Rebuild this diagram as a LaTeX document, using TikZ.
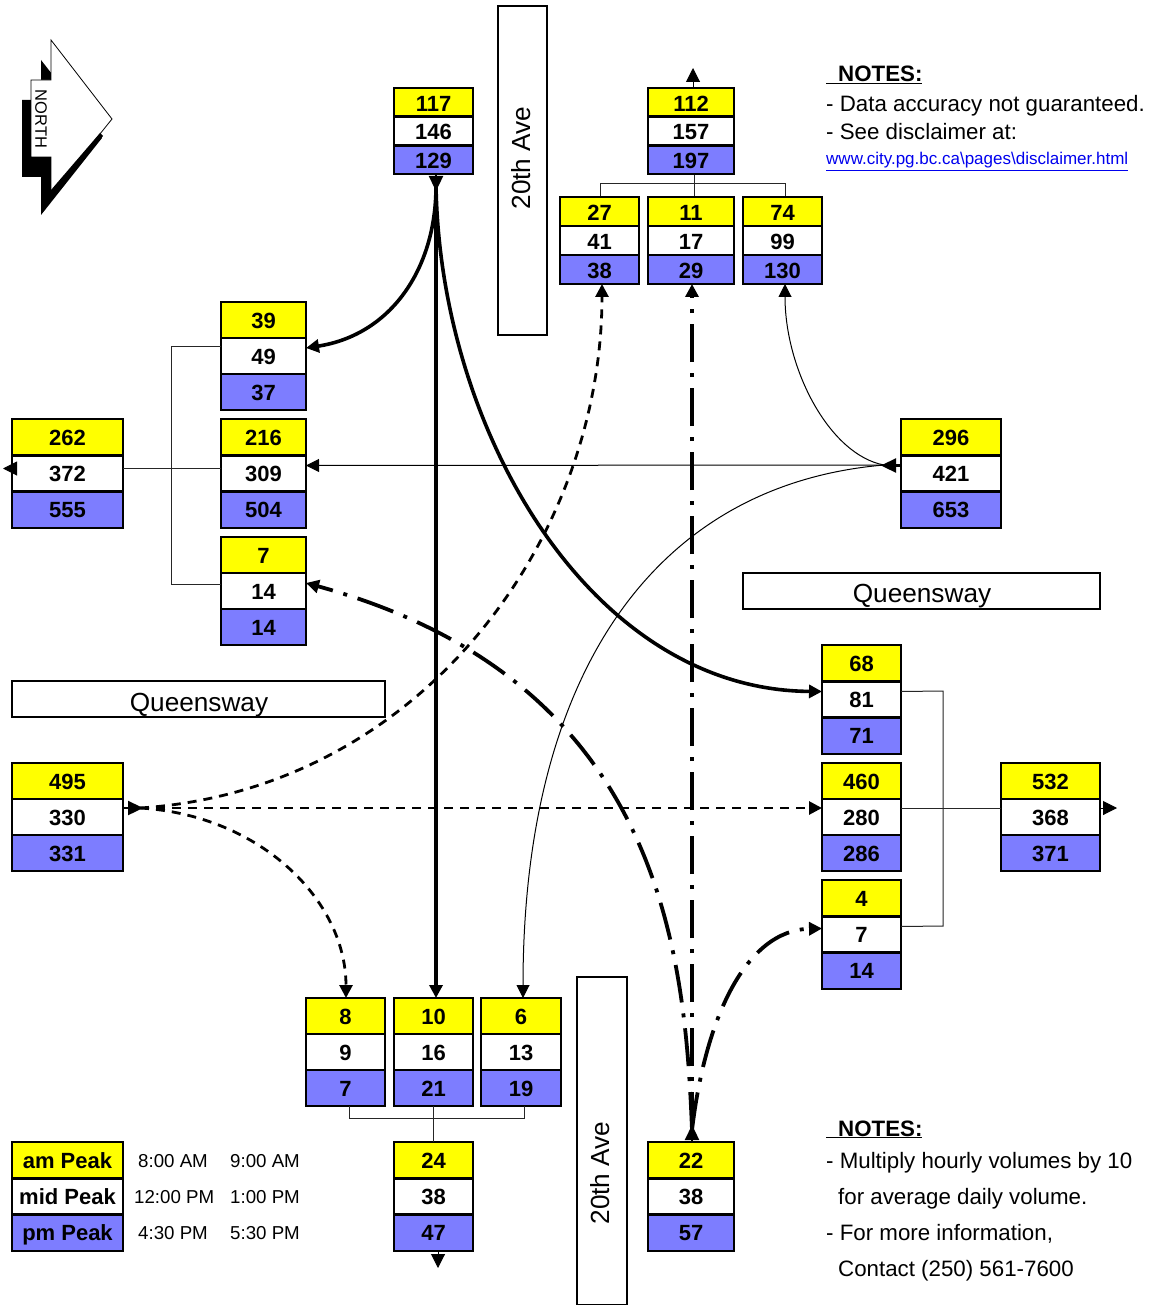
\documentclass[tikz,border=0pt]{standalone}
\usepackage{fontspec}
\setmainfont{Liberation Sans}
\usetikzlibrary{arrows.meta,calc}
\definecolor{pmblue}{RGB}{125,125,255}
\definecolor{amyellow}{RGB}{255,255,0}
\definecolor{linkblue}{RGB}{0,0,238}
\tikzset{
  cell/.style={draw=black,line width=2.4pt,inner sep=0pt,outer sep=0pt,align=center,text depth=0pt,font=\fontsize{22}{24}\bfseries\selectfont},
  road/.style={draw=black,line width=1.1pt,fill=white,inner sep=0pt,outer sep=0pt},
  roadtext/.style={inner sep=0pt,font=\fontsize{26.2}{28}\selectfont},
  thinline/.style={draw=black!85,line width=1pt},
  tipa/.style={-{Triangle[length=13pt,width=13pt]}},
  solidflow/.style={tipa,line width=3.6pt},
  thinflow/.style={tipa,line width=1pt},
  dashflow/.style={tipa,line width=2.8pt,dash pattern=on 9pt off 7pt},
  dotflow/.style={tipa,line width=3.8pt,dash pattern=on 38pt off 11pt on 4pt off 11pt},
  note/.style={anchor=base west,inner sep=0pt,font=\fontsize{22.3}{24}\selectfont},
  time/.style={anchor=base west,inner sep=0pt,font=\fontsize{18.7}{20}\selectfont},
  outtip/.style={-{Triangle[length=14pt,width=14pt]},line width=1pt},
  srctip/.style={-{Triangle[length=15pt,width=14pt]},line width=2.4pt}
}
\newcommand\cellstack[8]{%
  \pgfmathsetmacro\cw{#3-#2}\pgfmathsetmacro\cx{(#2+#3)/2}%
  \pgfmathsetmacro\ch{(#5-#4)/3}%
  \pgfmathsetmacro\tht{\ch<30?18:16}%
  \pgfmathsetmacro\ya{#4+\ch/2}\pgfmathsetmacro\yb{#4+\ch*1.5}\pgfmathsetmacro\yc{#4+\ch*2.5}%
  \node[cell,text height=\tht pt,fill=amyellow,minimum width=\cw pt,minimum height=\ch pt] (#1-a) at (\cx,\ya) {#6};
  \node[cell,text height=\tht pt,fill=white,minimum width=\cw pt,minimum height=\ch pt] (#1-b) at (\cx,\yb) {#7};
  \node[cell,text height=\tht pt,fill=pmblue,minimum width=\cw pt,minimum height=\ch pt] (#1-c) at (\cx,\yc) {#8};
}
\begin{document}
\begin{tikzpicture}[x=1pt,y=-1pt]
\useasboundingbox (0,0) rectangle (1148,1305);
\fill[white] (0,0) rectangle (1148,1305);
% north arrow
\fill[black] (41,60)--(102,138)--(41,215)--(41,177)--(22,177)--(22,100)--(41,100)--cycle;
\draw[fill=white,line width=.8pt] (51,40)--(112,119)--(51,195)--(51,157)--(31,157)--(31,80)--(51,80)--cycle;
\fill[black] (100,133)--(103,136)--(51,200)--(51,190)--cycle;
\node[rotate=-90,inner sep=0pt,font=\fontsize{16.5}{18}\selectfont] (northlabel) at (41,119) {NORTH};
% roads
\node[road,minimum width=49pt,minimum height=329pt] (roadN) at (522.5,170.5) {};
\node[roadtext,rotate=90] (roadNt) at (521,158) {20th Ave};
\node[road,minimum width=50pt,minimum height=328pt] (roadS) at (602,1141) {};
\node[roadtext,rotate=90] (roadSt) at (600,1173) {20th Ave};
\node[road,minimum width=357pt,minimum height=36pt] (roadE) at (921.5,591) {};
\node[roadtext] (roadEt) at (922,596) {Queensway};
\node[road,minimum width=373pt,minimum height=36pt] (roadW) at (198.5,699) {};
\node[roadtext] (roadWt) at (199,705) {Queensway};
% connecting lines under the stacks
\draw[thinline] (694,174) -- (694,197);
\draw[thinline] (600,197) -- (600,184) -- (785,184) -- (785,197);
% stacks
\cellstack{n117}{394}{473}{88}{174}{117}{146}{129}
\cellstack{n112}{648}{734}{88}{174}{112}{157}{197}
\cellstack{n27}{560}{639}{197}{284}{27}{41}{38}
\cellstack{n11}{648}{734}{197}{284}{11}{17}{29}
\cellstack{n74}{743}{822}{197}{284}{74}{99}{130}
\cellstack{n39}{221}{306}{302}{410}{39}{49}{37}
\cellstack{n216}{221}{306}{419}{528}{216}{309}{504}
\cellstack{n7}{221}{306}{537}{645}{7}{14}{14}
\cellstack{n262}{12}{123}{419}{528}{262}{372}{555}
\cellstack{n296}{901}{1001}{419}{528}{296}{421}{653}
\cellstack{n68}{822}{901}{645}{754}{68}{81}{71}
\cellstack{n460}{822}{901}{763}{871}{460}{280}{286}
\cellstack{n4}{822}{901}{880}{989}{4}{7}{14}
\cellstack{n532}{1001}{1100}{763}{871}{532}{368}{371}
\cellstack{n495}{12}{123}{763}{871}{495}{330}{331}
\cellstack{n8}{306}{385}{998}{1106}{8}{9}{7}
\cellstack{n10}{394}{473}{998}{1106}{10}{16}{21}
\cellstack{n6}{481}{561}{998}{1106}{6}{13}{19}
\cellstack{n24}{394}{473}{1142}{1251}{24}{38}{47}
\cellstack{n22}{648}{734}{1142}{1251}{22}{38}{57}
\cellstack{lg}{12}{123}{1142}{1251}{am Peak}{mid Peak}{pm Peak}
% brackets
\draw[thinline] ($(n39-b.west)+(0,-10)$) -- (171,346) -- (171,584) -- ($(n7-b.west)+(0,-7)$);
\draw[thinline] ($(n262-b.east)+(0,-5)$) -- ($(n216-b.west)+(0,-5)$);
\draw[thinline] ($(n68-b.east)+(0,-8)$) -- (943,691) -- (943,926) -- ($(n4-b.east)+(0,-8)$);
\draw[thinline] ($(n460-b.east)+(0,-9)$) -- ($(n532-b.west)+(0,-9)$);
\draw[thinline] (349,1106) -- (349,1118) -- (524,1118) -- (524,1106);
\draw[thinline] (n24-a.north) -- (433.5,1118);
\draw[thinline] (n10-c.south) -- (433.5,1118);
% out tips
\draw[outtip] ($(n112-a.north)+(2,0)$) -- ++(0,-20);
\draw[outtip] ($(n24-c.south)+(4.5,0)$) -- ++(0,17);
\draw[outtip] ($(n262-b.west)+(0,-5)$) -- ++(-9,0);
\draw[outtip] ($(n532-b.east)+(0,-9)$) -- ++(17,0);
% flows
\coordinate (srcN) at (436,186);
\coordinate (srcE) at (884,465);
\coordinate (srcW) at (140,808);
\coordinate (srcS) at (692,1130);
\draw[solidflow] (srcN) -- ([xshift=2.5pt]n10-a.north);
\draw[solidflow] (srcN) .. controls (436,270) and (390,335) .. ([yshift=8pt]n39-b.east);
\draw[solidflow] (srcN) .. controls (440,430) and (590,690) .. ([yshift=8pt]n68-b.west);
\draw[thinflow] (srcE) .. controls (830,455) and (785,370) .. ([xshift=2.5pt]n74-c.south);
\draw[thinflow] (srcE) -- ([yshift=8pt]n216-b.east);
\draw[thinflow] (srcE) .. controls (650,485) and (523,680) .. ([xshift=2pt]n6-a.north);
\draw[dashflow] (srcW) .. controls (420,790) and (602,540) .. ([xshift=2.5pt]n27-c.south);
\draw[dashflow] (srcW) -- ([yshift=9pt]n460-b.west);
\draw[dashflow] (srcW) .. controls (260,815) and (346,900) .. ([xshift=0.5pt]n8-a.north);
\draw[dotflow] (srcS) .. controls (685,950) and (660,680) .. ([yshift=8pt]n7-b.east);
\draw[dotflow] (srcS) .. controls (705,1020) and (745,930) .. ([yshift=6pt]n4-b.west);
\draw[dotflow] (srcS) -- ([xshift=1pt]n11-c.south);
% source tips
\draw[srctip] ($(n117-c.south)+(2.5,0)$) -- ++(0,17);
\draw[srctip] ($(n296-b.west)+(0,-8)$) -- ++(-20,0);
\draw[srctip] ($(n495-b.east)+(0,-9)$) -- ++(20,0);
\draw[srctip] ($(n22-a.north)+(1,0)$) -- ++(0,-17);
% notes
\node[note] (note1) at (826,82) {$\underline{\hbox{\hspace{12pt}\bfseries NOTES:}}$};
\node[note] (note2) at (826,112) {- Data accuracy not guaranteed.};
\node[note] (note3) at (826,140) {- See disclaimer at:};
\node[note,font=\fontsize{17}{18}\selectfont,text=linkblue] (note4) at (826,165) {$\underline{\hbox{www.city.pg.bc.ca\textbackslash pages\textbackslash disclaimer.html}}$};
\node[note] (note5) at (826,1136) {$\underline{\hbox{\hspace{12pt}\bfseries NOTES:}}$};
\node[note] (note6) at (826,1168) {- Multiply hourly volumes by 10};
\node[note] (note7) at (838,1204) {for average daily volume.};
\node[note] (note8) at (826,1240) {- For more information,};
\node[note] (note9) at (838,1276) {Contact (250) 561-7600};
% legend times
\node[time] (t1) at (138,1167) {8:00 AM};
\node[time] (t2) at (230,1167) {9:00 AM};
\node[time] (t3) at (134,1203) {12:00 PM};
\node[time] (t4) at (230,1203) {1:00 PM};
\node[time] (t5) at (138,1239) {4:30 PM};
\node[time] (t6) at (230,1239) {5:30 PM};
\end{tikzpicture}
\end{document}
